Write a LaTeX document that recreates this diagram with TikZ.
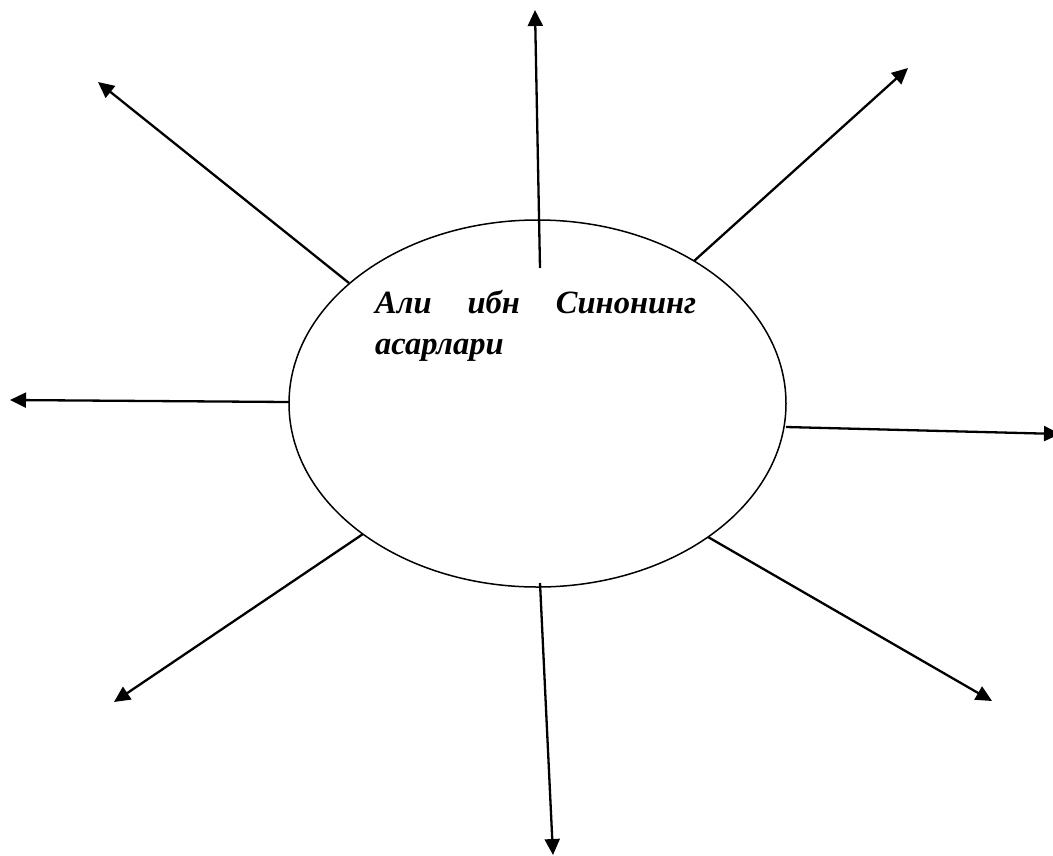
\documentclass[tikz,border=0pt]{standalone}
\usepackage{fontspec}
\setmainfont{Liberation Serif}
\usetikzlibrary{arrows.meta,shapes.geometric}
\begin{document}
\begin{tikzpicture}[x=1pt,y=-1pt,
  ray/.style={line width=2.3pt,-{Triangle[length=16pt,width=15pt]}},
  lbl/.style={font=\fontsize{32.5}{39}\selectfont\bfseries\itshape,inner sep=0pt,anchor=base west}]
\useasboundingbox (0,0) rectangle (1053,855);
\node[draw,line width=1.5pt,ellipse,minimum width=497pt,minimum height=367pt,inner sep=0pt] (e) at (537.5,403.5) {};
\node[lbl] (t1) at (375,313) {\makebox[321pt]{Али\hfill ибн\hfill Синонинг}};
\node[lbl] (t2) at (375,354) {асарлари};
% start points
\coordinate (sN) at (540,268);
\coordinate (sNW) at (349,283);
\coordinate (sNE) at (694,261);
\coordinate (sW) at (289,402);
\coordinate (sE) at (786,427);
\coordinate (sSW) at (363,534);
\coordinate (sS) at (540,583);
\coordinate (sSE) at (708,537);
% end points
\coordinate (eN) at (535,10);
\coordinate (eNW) at (98,82);
\coordinate (eNE) at (908,68);
\coordinate (eW) at (10,400);
\coordinate (eE) at (1060,434);
\coordinate (eSW) at (114,702);
\coordinate (eS) at (553,855);
\coordinate (eSE) at (992,701);
\draw[ray] (sN) -- (eN);
\draw[ray] (sNW) -- (eNW);
\draw[ray] (sNE) -- (eNE);
\draw[ray] (sW) -- (eW);
\draw[ray] (sE) -- (eE);
\draw[ray] (sSW) -- (eSW);
\draw[ray] (sS) -- (eS);
\draw[ray] (sSE) -- (eSE);
\end{tikzpicture}
\end{document}
